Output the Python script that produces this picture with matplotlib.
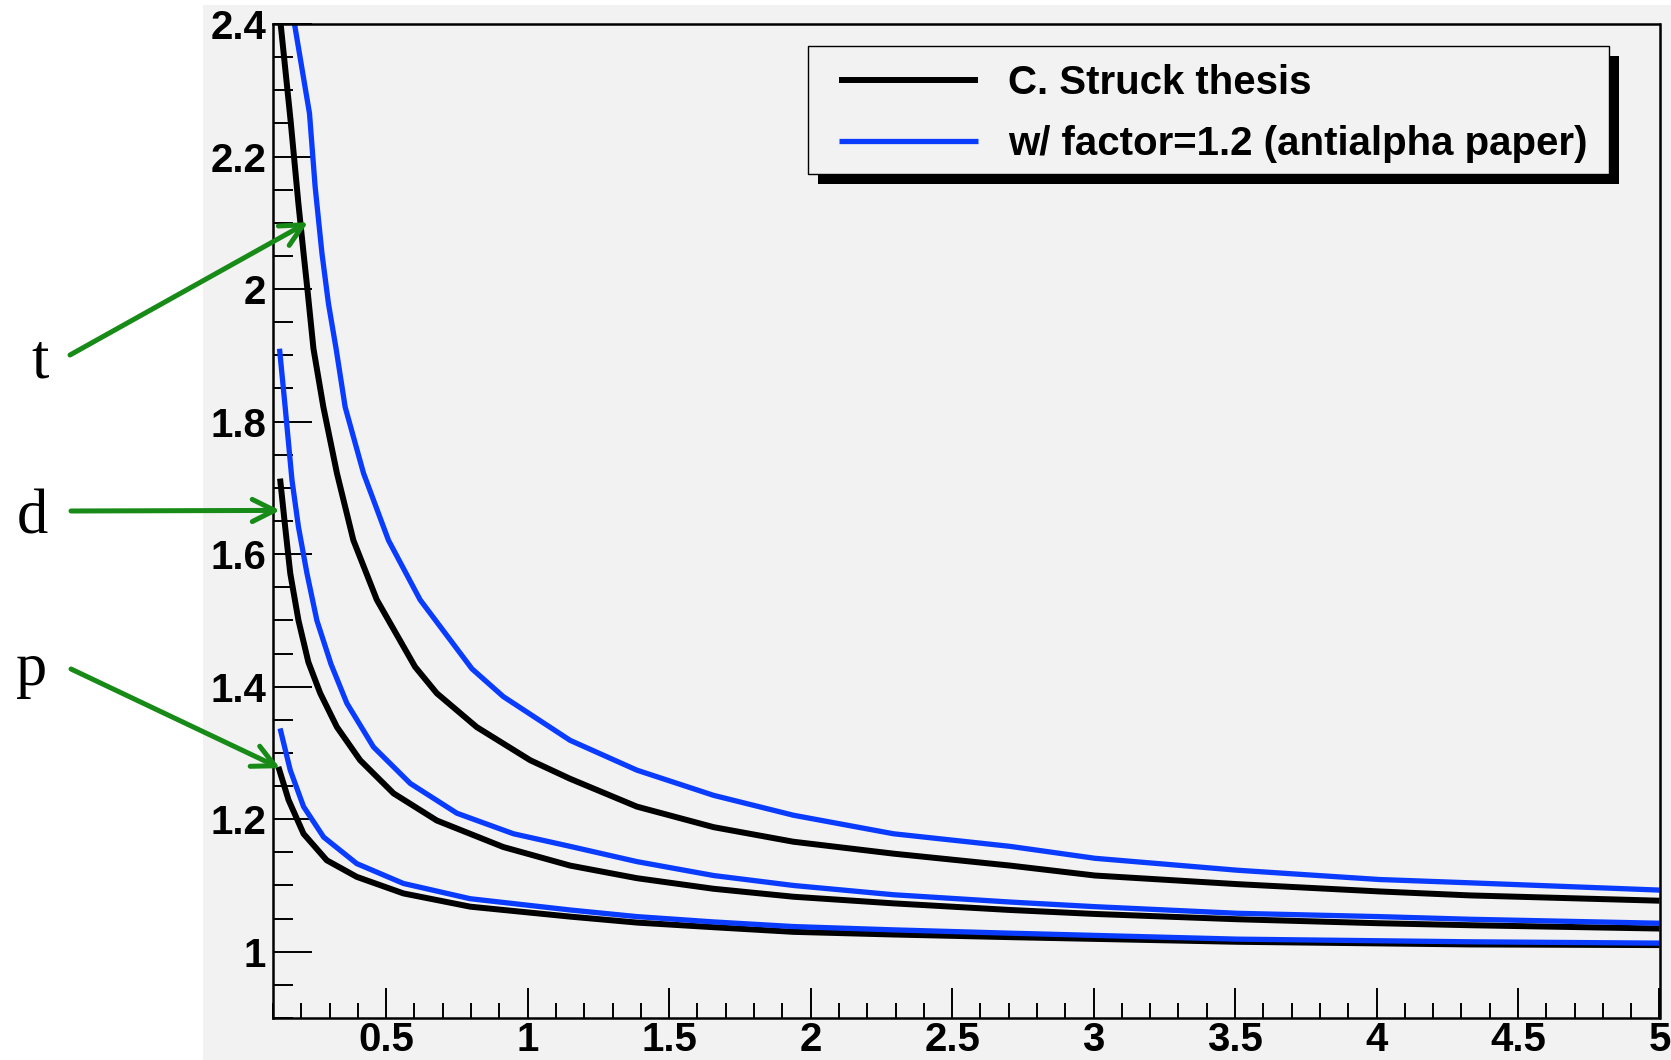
import matplotlib.pyplot as plt
from matplotlib.patches import Rectangle
from matplotlib.ticker import MultipleLocator, FormatStrFormatter

# values
t_black_x = [0.127, 0.162, 0.190, 0.208, 0.222, 0.243, 0.278, 0.326, 0.384, 0.467, 0.602, 0.679,
             0.820, 1.009, 1.150, 1.386, 1.657, 1.939, 2.293, 2.705, 3.005, 3.508, 4.009, 4.330, 5.0]
t_black_y = [2.400, 2.255, 2.128, 2.054, 1.998, 1.910, 1.822, 1.722, 1.621, 1.531, 1.430, 1.390,
             1.339, 1.289, 1.261, 1.219, 1.188, 1.166, 1.148, 1.130, 1.115, 1.102, 1.091, 1.085, 1.077]

t_blue_x = [0.176, 0.229, 0.249, 0.273, 0.296, 0.323, 0.355, 0.420, 0.508, 0.620, 0.803, 0.914,
            1.150, 1.386, 1.657, 1.939, 2.293, 2.705, 3.005, 3.508, 4.009, 4.330, 5.0]
t_blue_y = [2.400, 2.265, 2.154, 2.054, 1.978, 1.910, 1.822, 1.722, 1.621, 1.531, 1.427, 1.385,
            1.319, 1.274, 1.236, 1.206, 1.178, 1.159, 1.141, 1.123, 1.109, 1.104, 1.093]

d_black_x = [0.125, 0.143, 0.161, 0.190, 0.225, 0.267, 0.326, 0.408, 0.526, 0.679, 0.914, 1.150,
             1.386, 1.657, 1.939, 2.293, 2.705, 3.005, 3.508, 4.009, 4.330, 5.0]
d_black_y = [1.714, 1.641, 1.571, 1.500, 1.437, 1.390, 1.339, 1.289, 1.239, 1.198, 1.158, 1.130,
             1.111, 1.095, 1.083, 1.073, 1.063, 1.057, 1.049, 1.043, 1.040, 1.035]

d_blue_x = [0.123, 0.143, 0.167, 0.190, 0.220, 0.255, 0.305, 0.361, 0.455, 0.585, 0.750, 0.950,
            1.150, 1.386, 1.657, 1.939, 2.293, 2.705, 3.005, 3.508, 4.009, 4.330, 5.0]
d_blue_y = [1.910, 1.822, 1.712, 1.641, 1.571, 1.500, 1.434, 1.375, 1.309, 1.254, 1.209, 1.178,
            1.159, 1.136, 1.115, 1.100, 1.086, 1.075, 1.068, 1.058, 1.053, 1.049, 1.043]

p_black_x = [0.119, 0.155, 0.208, 0.290, 0.396, 0.561, 0.797, 1.150, 1.386, 1.657, 1.939, 2.293,
             2.705, 3.508, 4.330, 5.0]
p_black_y = [1.279, 1.229, 1.178, 1.138, 1.113, 1.088, 1.068, 1.053, 1.044, 1.037, 1.030, 1.026,
             1.022, 1.015, 1.011, 1.010]

p_blue_x = [0.125, 0.161, 0.208, 0.279, 0.396, 0.561, 0.797, 1.150, 1.386, 1.657, 1.939, 2.293,
            2.705, 3.508, 4.330, 5.0]
p_blue_y = [1.337, 1.274, 1.219, 1.173, 1.133, 1.103, 1.080, 1.063, 1.053, 1.045, 1.038, 1.033,
            1.028, 1.019, 1.015, 1.013]

labels = ['C. Struck thesis', 'w/ factor=1.2 (antialpha paper)']
particles = ['t', 'd', 'p']
arrow_tips = [(0.224, 2.101), (0.125, 1.666), (0.125, 1.277)]

BLUE = '#0a3cff'
GREEN = '#178a17'
GRAY = '#f2f2f2'
SANS = ['Liberation Sans Narrow', 'Liberation Sans']

W, H = 1671, 1060
fig = plt.figure(figsize=(W / 100, H / 100), dpi=100)
fig.patch.set_facecolor('white')
fig.add_artist(Rectangle((203 / W, 0), 1 - 203 / W, 1 - 5 / H, transform=fig.transFigure,
                         facecolor=GRAY, edgecolor='none', zorder=0))

ax = fig.add_axes([273 / W, 1 - 1018 / H, (1659.5 - 273) / W, (1018 - 24) / H])
ax.set_facecolor(GRAY)
ax.set_xlim(0.1, 5)
ax.set_ylim(0.9, 2.4)

style_k = dict(color='black', lw=4.3, solid_joinstyle='round', solid_capstyle='butt')
style_b = dict(color=BLUE, lw=3.8, solid_joinstyle='round', solid_capstyle='butt')
lb, = ax.plot(t_black_x, t_black_y, label=labels[0], **style_k)
lu, = ax.plot(t_blue_x, t_blue_y, label=labels[1], **style_b)
ax.plot(d_black_x, d_black_y, **style_k)
ax.plot(d_blue_x, d_blue_y, **style_b)
ax.plot(p_black_x, p_black_y, **style_k)
ax.plot(p_blue_x, p_blue_y, **style_b)

for s in ax.spines.values():
    s.set_linewidth(1.8)
ax.xaxis.set_major_locator(MultipleLocator(0.5))
ax.xaxis.set_minor_locator(MultipleLocator(0.1))
ax.yaxis.set_major_locator(MultipleLocator(0.2))
ax.yaxis.set_minor_locator(MultipleLocator(0.05))
ax.xaxis.set_major_formatter(FormatStrFormatter('%g'))
ax.yaxis.set_major_formatter(FormatStrFormatter('%g'))
ax.tick_params(which='both', direction='in', top=False, right=False, width=1.4, color='black')
ax.tick_params(axis='x', which='major', length=21.5, pad=2)
ax.tick_params(axis='x', which='minor', length=11)
ax.tick_params(axis='y', which='major', length=28, pad=5)
ax.tick_params(axis='y', which='minor', length=14.4)
for lab in ax.get_xticklabels() + ax.get_yticklabels():
    lab.set_family(SANS)
    lab.set_fontweight('bold')
    lab.set_fontsize(29)

# legend box with ROOT-style black shadow
ax.add_patch(Rectangle(((808 + 10) / W, 1 - (174 + 10) / H), 801 / W, 128 / H,
                       transform=fig.transFigure, facecolor='black', edgecolor='none',
                       clip_on=False, zorder=5))
ax.add_patch(Rectangle((808 / W, 1 - 174 / H), 801 / W, 128 / H, transform=fig.transFigure,
                       facecolor=GRAY, edgecolor='black', lw=1.0, clip_on=False, zorder=6))
leg = ax.legend(handles=[lb, lu], loc='upper left', bbox_to_anchor=(839 / W, 1 - 64.5 / H),
                bbox_transform=fig.transFigure, frameon=False, borderpad=0, borderaxespad=0,
                handlelength=3.45, handletextpad=0.75, labelspacing=0.55,
                prop={'family': SANS, 'weight': 'bold', 'size': 29})
leg.set_zorder(7)

# particle labels with arrows
text_pos = [(40 / W, 1 - 378 / H), (32 / W, 1 - 533 / H), (32 / W, 1 - 685 / H)]
tail_pos = [(70 / W, 1 - 355 / H), (71 / W, 1 - 511 / H), (71 / W, 1 - 669 / H)]
for name, tp, tail, tip in zip(particles, text_pos, tail_pos, arrow_tips):
    fig.text(tp[0], tp[1], name, family='Liberation Serif', fontsize=45, ha='center', va='baseline')
    ax.annotate('', xy=tip, xycoords='data', xytext=tail, textcoords='figure fraction',
                arrowprops=dict(arrowstyle='->', color=GREEN, lw=3.6, mutation_scale=40,
                                shrinkA=0, shrinkB=0),
                annotation_clip=False)

fig.savefig('out.png', dpi=100)
